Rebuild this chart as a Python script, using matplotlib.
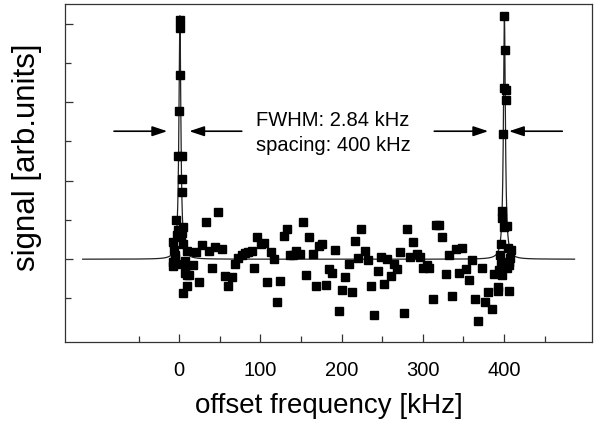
import numpy as np
import matplotlib
matplotlib.use("Agg")
import matplotlib.pyplot as plt

# ---- data (offset frequency in kHz, signal in arb. units) ----
freq_khz = [
    -8.1, -7.4, -7.4, -6.5, -5.3, -5.3, -4.1, -4.1, -3.2, -1.2, -1.2, 0.0, 0.9, 0.9, 1.2,
    1.7, 3.0, 3.0, 3.0, 3.3, 4.2, 4.9, 4.9, 7.0, 7.0, 7.0, 9.1, 9.1, 9.1, 12.3,
    16.5, 20.2, 24.3, 28.3, 32.5, 36.6, 40.3, 44.4, 48.0, 52.2, 56.3, 60.4, 64.6, 68.6,
    72.3, 76.9, 80.9, 85.0, 89.2, 92.0, 96.1, 100.3, 104.7, 108.4, 112.6, 116.7, 120.4,
    124.4, 128.6, 132.3, 136.4, 140.4, 144.1, 148.7, 152.4, 156.1, 160.2, 164.7, 168.0,
    172.1, 176.2, 180.4, 184.4, 188.5, 192.2, 196.8, 200.8, 204.1, 208.7, 212.4, 216.5,
    220.5, 224.2, 228.4, 232.8, 236.5, 239.9, 244.4, 248.5, 252.2, 255.9, 260.4, 264.5,
    268.6, 272.3, 276.5, 280.9, 284.2, 288.3, 292.5, 296.5, 300.6, 304.8, 308.0, 312.9,
    315.9, 320.3, 324.0, 328.6, 332.3, 336.3, 340.5, 344.6, 348.7, 352.8, 356.9, 361.0,
    364.3, 368.4, 372.6, 376.6, 380.7, 384.9, 388.1,
    392.3, 393.0, 393.9, 395.4, 396.0, 396.7, 397.2, 397.5, 397.5, 399.2, 399.5, 400.4,
    400.4, 401.3, 402.1, 402.1, 403.4, 403.4, 405.3, 406.2, 406.2, 406.2, 407.4, 408.6,
]
signal = [
    -0.09, 0.22, -0.03, 0.12, 0.05, 0.01, 0.50, -0.06, 0.31, 1.32, 0.37, 1.89, 2.94, 2.34, 3.04,
    0.28, 1.31, 1.02, 0.34, 0.86, -0.43, 0.41, 0.19, -0.02, -0.08, -0.18, 0.11, -0.20, -0.34, -0.20,
    -0.08, 0.09, -0.29, 0.18, 0.48, 0.10, -0.11, 0.15, 0.60, 0.13, -0.22, -0.34, -0.23, -0.06,
    0.02, 0.05, 0.08, 0.09, 0.11, -0.11, 0.28, 0.20, 0.21, -0.29, 0.09, 0.00, -0.54,
    -0.28, 0.30, 0.39, 0.05, 0.05, 0.11, 0.07, 0.48, -0.20, 0.28, 0.06, -0.34,
    0.17, 0.20, -0.33, -0.13, -0.17, 0.12, -0.66, -0.39, -0.23, -0.06, -0.42, 0.23,
    0.02, 0.39, 0.11, -0.01, -0.34, -0.71, -0.15, 0.03, -0.31, 0.00, -0.22, -0.06,
    -0.13, 0.09, -0.69, 0.39, 0.03, 0.22, 0.06, 0.03, -0.11, -0.07, -0.11, -0.51,
    0.43, 0.43, 0.28, -0.19, 0.05, -0.47, 0.13, -0.18, 0.14, -0.12, -0.26, -0.01,
    -0.51, -0.79, -0.11, -0.54, -0.42, -0.64, -0.19,
    -0.41, -0.35, -0.14, 0.05, -0.06, 0.19, -0.20, 0.61, 0.52, 1.60, 0.41, 3.10,
    2.18, 2.67, 2.16, 2.03, -0.11, 0.42, 0.14, -0.41, -0.03, -0.07, 0.01, 0.12,
]

# Lorentzian fit parameters
fit_centers = [0.8, 400.6]
fit_amplitude = 3.1
fit_fwhm = 2.84
fit_range = (-119.0, 487.0)

x_ticks_major = [0, 100, 200, 300, 400]
x_ticks_minor = [-50, 50, 150, 250, 350, 450]
y_ticks_major = [0, 1, 2, 3]
y_ticks_minor = [-0.5, 0.5, 1.5, 2.5]

plt.rcParams['font.family'] = ['Liberation Sans', 'DejaVu Sans']

fig = plt.figure(figsize=(5.96, 4.28), dpi=100)
ax = fig.add_axes([0.109, 0.201, 0.884, 0.790])

xf = np.linspace(fit_range[0], fit_range[1], 60001)
g = fit_fwhm / 2.0
yf = np.zeros_like(xf)
for c in fit_centers:
    yf += fit_amplitude / (1.0 + ((xf - c) / g) ** 2)
ax.plot(xf, yf, color='#222222', lw=0.9, zorder=2)

ax.plot(freq_khz, signal, 's', color='black', markersize=5.1, zorder=3)

ax.set_xlim(-140.8, 508.3)
ax.set_ylim(-1.054, 3.252)

ax.set_xticks(x_ticks_major)
ax.set_xticks(x_ticks_minor, minor=True)
ax.set_yticks(y_ticks_major)
ax.set_yticks(y_ticks_minor, minor=True)
ax.set_yticklabels([])
ax.tick_params(axis='both', which='both', direction='in', top=False, right=False,
               color='#333333', width=0.9)
ax.tick_params(axis='x', which='major', length=6, labelsize=14.5, pad=14)
ax.tick_params(axis='x', which='minor', length=4)
ax.tick_params(axis='y', which='major', length=6)
ax.tick_params(axis='y', which='minor', length=4)
for s in ax.spines.values():
    s.set_color('#333333')
    s.set_linewidth(0.9)

ax.set_xlabel('offset frequency [kHz]', fontsize=20, labelpad=9)
ax.set_ylabel('signal [arb.units]', fontsize=22.5)
ax.yaxis.set_label_coords(-0.043, 0.545)

arrow_y = 1.63
arrow_kw = dict(arrowstyle='-|>,head_length=0.9,head_width=0.3', color='black', lw=1.2,
                shrinkA=0, shrinkB=0)
ax.annotate('', xy=(-14.8, arrow_y), xytext=(-80.4, arrow_y), arrowprops=arrow_kw)
ax.annotate('', xy=(12.3, arrow_y), xytext=(77.0, arrow_y), arrowprops=arrow_kw)
ax.annotate('', xy=(380.7, arrow_y), xytext=(314.2, arrow_y), arrowprops=arrow_kw)
ax.annotate('', xy=(406.2, arrow_y), xytext=(471.9, arrow_y), arrowprops=arrow_kw)

ax.text(189.4, 1.605, 'FWHM: 2.84 kHz\nspacing: 400 kHz', ha='center', va='center',
        fontsize=14.5, linespacing=1.38)

fig.savefig('out.png', dpi=100)
